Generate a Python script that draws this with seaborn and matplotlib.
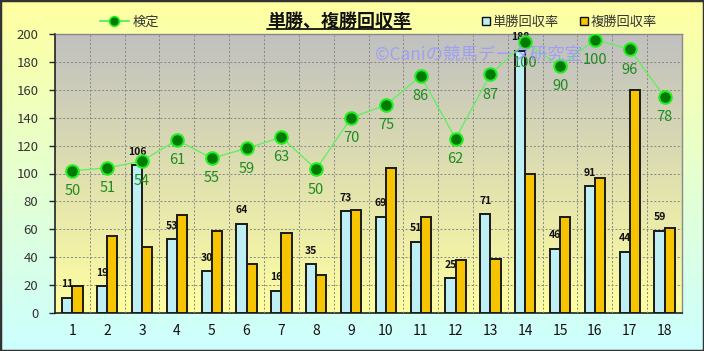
import numpy as np
import pandas as pd
import matplotlib
matplotlib.use("Agg")
import matplotlib.pyplot as plt
from matplotlib.lines import Line2D
from matplotlib.patches import Rectangle, Patch
import seaborn as sns

races = [str(i) for i in range(1, 19)]
tansho = [11, 19, 106, 53, 30, 64, 16, 35, 73, 69, 51, 25, 71, 188, 46, 91, 44, 59]
fukusho = [19, 55, 47, 70, 59, 35, 57, 27, 74, 104, 69, 38, 39, 100, 69, 97, 160, 61]
kentei_y = [102, 104, 109, 124, 111, 118, 126, 103, 140, 149, 170, 125, 171, 194, 177, 196, 189, 155]
kentei_labels = [50, 51, 54, 61, 55, 59, 63, 50, 70, 75, 86, 62, 87, 100, 90, 100, 96, 78]

sns.set_theme(style="white")
plt.rcParams['font.family'] = ['Noto Sans CJK JP', 'DejaVu Sans']

df = pd.DataFrame({
    "race": races * 2,
    "series": ["単勝回収率"] * len(races) + ["複勝回収率"] * len(races),
    "value": tansho + fukusho,
})

fig = plt.figure(figsize=(7.04, 3.51), dpi=100)

# figure background gradient (yellow -> cyan)
bg = fig.add_axes([0, 0, 1, 1], zorder=-10)
t = np.linspace(0, 1, 256)[:, None]
top = np.array([255, 255, 160]) / 255
bot = np.array([204, 255, 255]) / 255
grad = top[None, None, :] * (1 - t[:, :, None]) + bot[None, None, :] * t[:, :, None]
bg.imshow(grad, aspect='auto', extent=[0, 1, 0, 1])
bg.set_axis_off()

ax = fig.add_axes([55 / 704, 38 / 351, 627 / 704, 279 / 351])

# plot area gradient (gray -> yellow)
ptop = np.array([192, 192, 192]) / 255
pbot = np.array([255, 255, 160]) / 255
pgrad = ptop[None, None, :] * (1 - t[:, :, None]) + pbot[None, None, :] * t[:, :, None]
ax.imshow(pgrad, aspect='auto', extent=[0, 1, 0, 1], transform=ax.transAxes, zorder=0)

sns.barplot(data=df, x="race", y="value", hue="series",
            palette=["#BDEFF5", "#F7C400"], width=0.58, gap=0,
            edgecolor="#1a1a1a", linewidth=1.4, saturation=1,
            ax=ax, legend=False, zorder=3)

xs = np.arange(len(races))
ax.plot(xs, kentei_y, color="#66EE66", lw=1.0, marker="o", markersize=9,
        markerfacecolor="#007A00", markeredgecolor="#22EE22", markeredgewidth=1.5, zorder=5)

for i, v in enumerate(tansho):
    ax.text(i - 0.145, v + 6, str(v), ha="center", va="bottom",
            fontsize=7.5, fontweight="bold", color="#111111", zorder=4)
for i, (y, lab) in enumerate(zip(kentei_y, kentei_labels)):
    ax.text(i, y - 14.5, str(lab), ha="center", va="center",
            fontsize=10.5, color="#1E8C1E", zorder=6)

ax.set_xlim(-0.5, len(races) - 0.5)
ax.set_ylim(0, 200)
ax.set_yticks(range(0, 201, 20))
ax.set_xticks(xs)
ax.set_xticklabels(races)
ax.set_xticks(np.arange(0.5, len(races) - 1, 1), minor=True)
ax.grid(axis="y", which="major", color="#858585", lw=0.7, ls=(0, (2, 2)), zorder=1)
ax.grid(axis="x", which="minor", color="#858585", lw=0.7, ls=(0, (2, 2)), zorder=1)
ax.set_axisbelow(False)
ax.set_xlabel("")
ax.set_ylabel("")
ax.tick_params(axis="y", length=4, width=1, pad=8, labelsize=9.5, labelcolor="#333333", left=True, direction="out")
ax.tick_params(axis="x", which="both", length=0, pad=8, labelsize=10, labelcolor="#111111")
for s in ["left", "bottom"]:
    ax.spines[s].set_color("#222222")
    ax.spines[s].set_linewidth(1.2)
for s in ["top", "right"]:
    ax.spines[s].set_color("#8a8a8a")
    ax.spines[s].set_linewidth(1.0)

ax.text(0.676, 0.925, "©Caniの競馬データ研究室", transform=ax.transAxes,
        ha="center", va="center", fontsize=12.5, color="#9999FF", alpha=0.85, zorder=7)

# title with underline
fig.text(339 / 704, 1 - 21 / 351, "単勝、複勝回収率", ha="center", va="center",
         fontsize=13, fontweight="bold", color="#111111")
fig.add_artist(Line2D([267 / 704, 411 / 704], [1 - 29 / 351] * 2, color="#111111", lw=1.3))

# legends
line_h = Line2D([], [], color="#66EE66", lw=1.5, marker="o", markersize=7,
                markerfacecolor="#007A00", markeredgecolor="#22EE22", markeredgewidth=1.2)
fig.legend([line_h], ["検定"], loc="center left", bbox_to_anchor=(88 / 704, 1 - 22 / 351),
           frameon=False, fontsize=9.5, handlelength=2.2, handletextpad=0.3, labelcolor="#333333")
bar_h = [Patch(facecolor="#BDEFF5", edgecolor="#111111", lw=1),
         Patch(facecolor="#F7C400", edgecolor="#111111", lw=1)]
fig.legend(bar_h, ["単勝回収率", "複勝回収率"], loc="center left", bbox_to_anchor=(470 / 704, 1 - 22 / 351),
           ncol=2, frameon=False, fontsize=9.5, handlelength=0.6, handleheight=0.6,
           handletextpad=0.2, columnspacing=1.6, labelcolor="#333333")

fig.add_artist(Rectangle((0, 0), 1, 1, transform=fig.transFigure, fill=False,
                         edgecolor="#333333", lw=2.5))

fig.savefig("out.png", dpi=100)
